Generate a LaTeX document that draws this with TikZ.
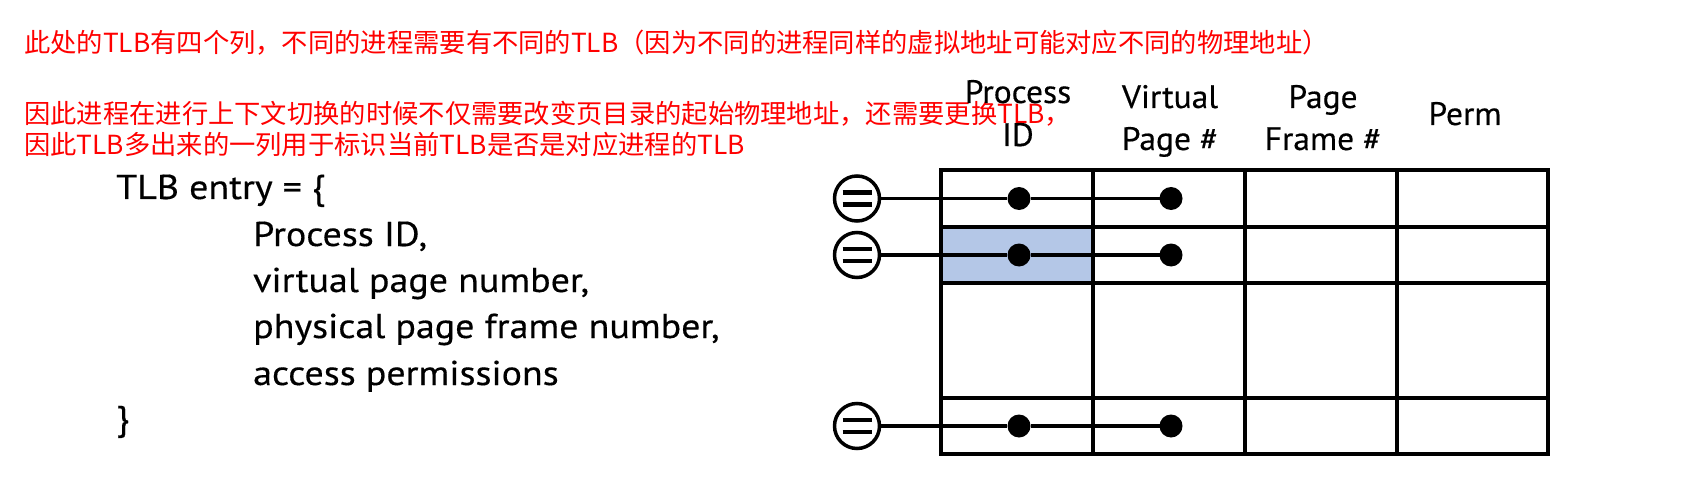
\documentclass[tikz,border=0pt]{standalone}
\usepackage{fontspec}
\setmainfont{PT Sans}
\newfontfamily\bodyfont{PT Sans}[FakeStretch=1.1,FakeBold=0.4]
\newfontfamily\headfont{PT Sans}[FakeStretch=1.03,FakeBold=0.4]
\newfontfamily\cjk{Noto Sans CJK SC}
\definecolor{cellblue}{HTML}{B4C7E7}
\begin{document}
\begin{tikzpicture}[x=1pt,y=-1pt,
  grid/.style={line width=4pt},
  eqc/.style={circle, draw, line width=3.5pt, minimum size=45pt, inner sep=0pt, fill=white},
  eqbar/.style={line width=4.5pt},
  dotn/.style={circle, fill, minimum size=23pt, inner sep=0pt},
  link/.style={line width=3.5pt},
  note/.style={text=red, font=\cjk\fontsize{26.3}{30}\selectfont, anchor=west, inner sep=0pt},
  body/.style={font=\bodyfont\fontsize{34.5}{40}\selectfont, anchor=base west, inner sep=0pt},
  head/.style={font=\headfont\fontsize{32.5}{40}\selectfont, anchor=base, inner sep=0pt}]
\useasboundingbox (0,0) rectangle (1696,489);
% red notes
\node[note] (n1) at (24,43) {此处的TLB有四个列，不同的进程需要有不同的TLB（因为不同的进程同样的虚拟地址可能对应不同的物理地址）};
\node[note] (n2) at (24,114) {因此进程在进行上下文切换的时候不仅需要改变页目录的起始物理地址，还需要更换TLB，};
\node[note] (n3) at (24,144) {因此TLB多出来的一列用于标识当前TLB是否是对应进程的TLB};
% left text
\node[body] (t0) at (116,199) {TLB entry = \{};
\node[body] (t1) at (253,246) {Process ID,};
\node[body] (t2) at (253,292) {virtual page number,};
\node[body] (t3) at (253,338) {physical page frame number,};
\node[body] (t4) at (253,385) {access permissions};
\node[body] (t5) at (116,430) {\}};
% headers
\node[head] (h1a) at (1018,103) {Process};
\node[head] (h1b) at (1018,146) {ID};
\node[head] (h2a) at (1170,108) {Virtual};
\node[head] (h2b) at (1170,150) {Page \#};
\node[head] (h3a) at (1323,108) {Page};
\node[head] (h3b) at (1323,150) {Frame \#};
\node[head] (h4) at (1465,125) {Perm};
% table
\fill[cellblue] (941,227) rectangle (1093,283);
\draw[grid] (941,170) rectangle (1548,454);
\foreach \yy in {227,283,398} \draw[grid] (941,\yy) -- (1548,\yy);
\foreach \xx in {1093,1245,1397} \draw[grid] (\xx,170) -- (\xx,454);
% comparators
\foreach \i/\yy in {1/198.5,2/255,3/426}{
  \node[eqc] (eq\i) at (857,\yy) {};
  \draw[eqbar] ([xshift=-14.5pt,yshift=-6pt]eq\i.center) -- ([xshift=14.5pt,yshift=-6pt]eq\i.center);
  \draw[eqbar] ([xshift=-14.5pt,yshift=6pt]eq\i.center) -- ([xshift=14.5pt,yshift=6pt]eq\i.center);
  \node[dotn] (p\i) at (1019,\yy) {};
  \node[dotn] (v\i) at (1171,\yy) {};
  \draw[link] (eq\i.east) -- (p\i) -- (v\i.center);
}
\end{tikzpicture}
\end{document}
